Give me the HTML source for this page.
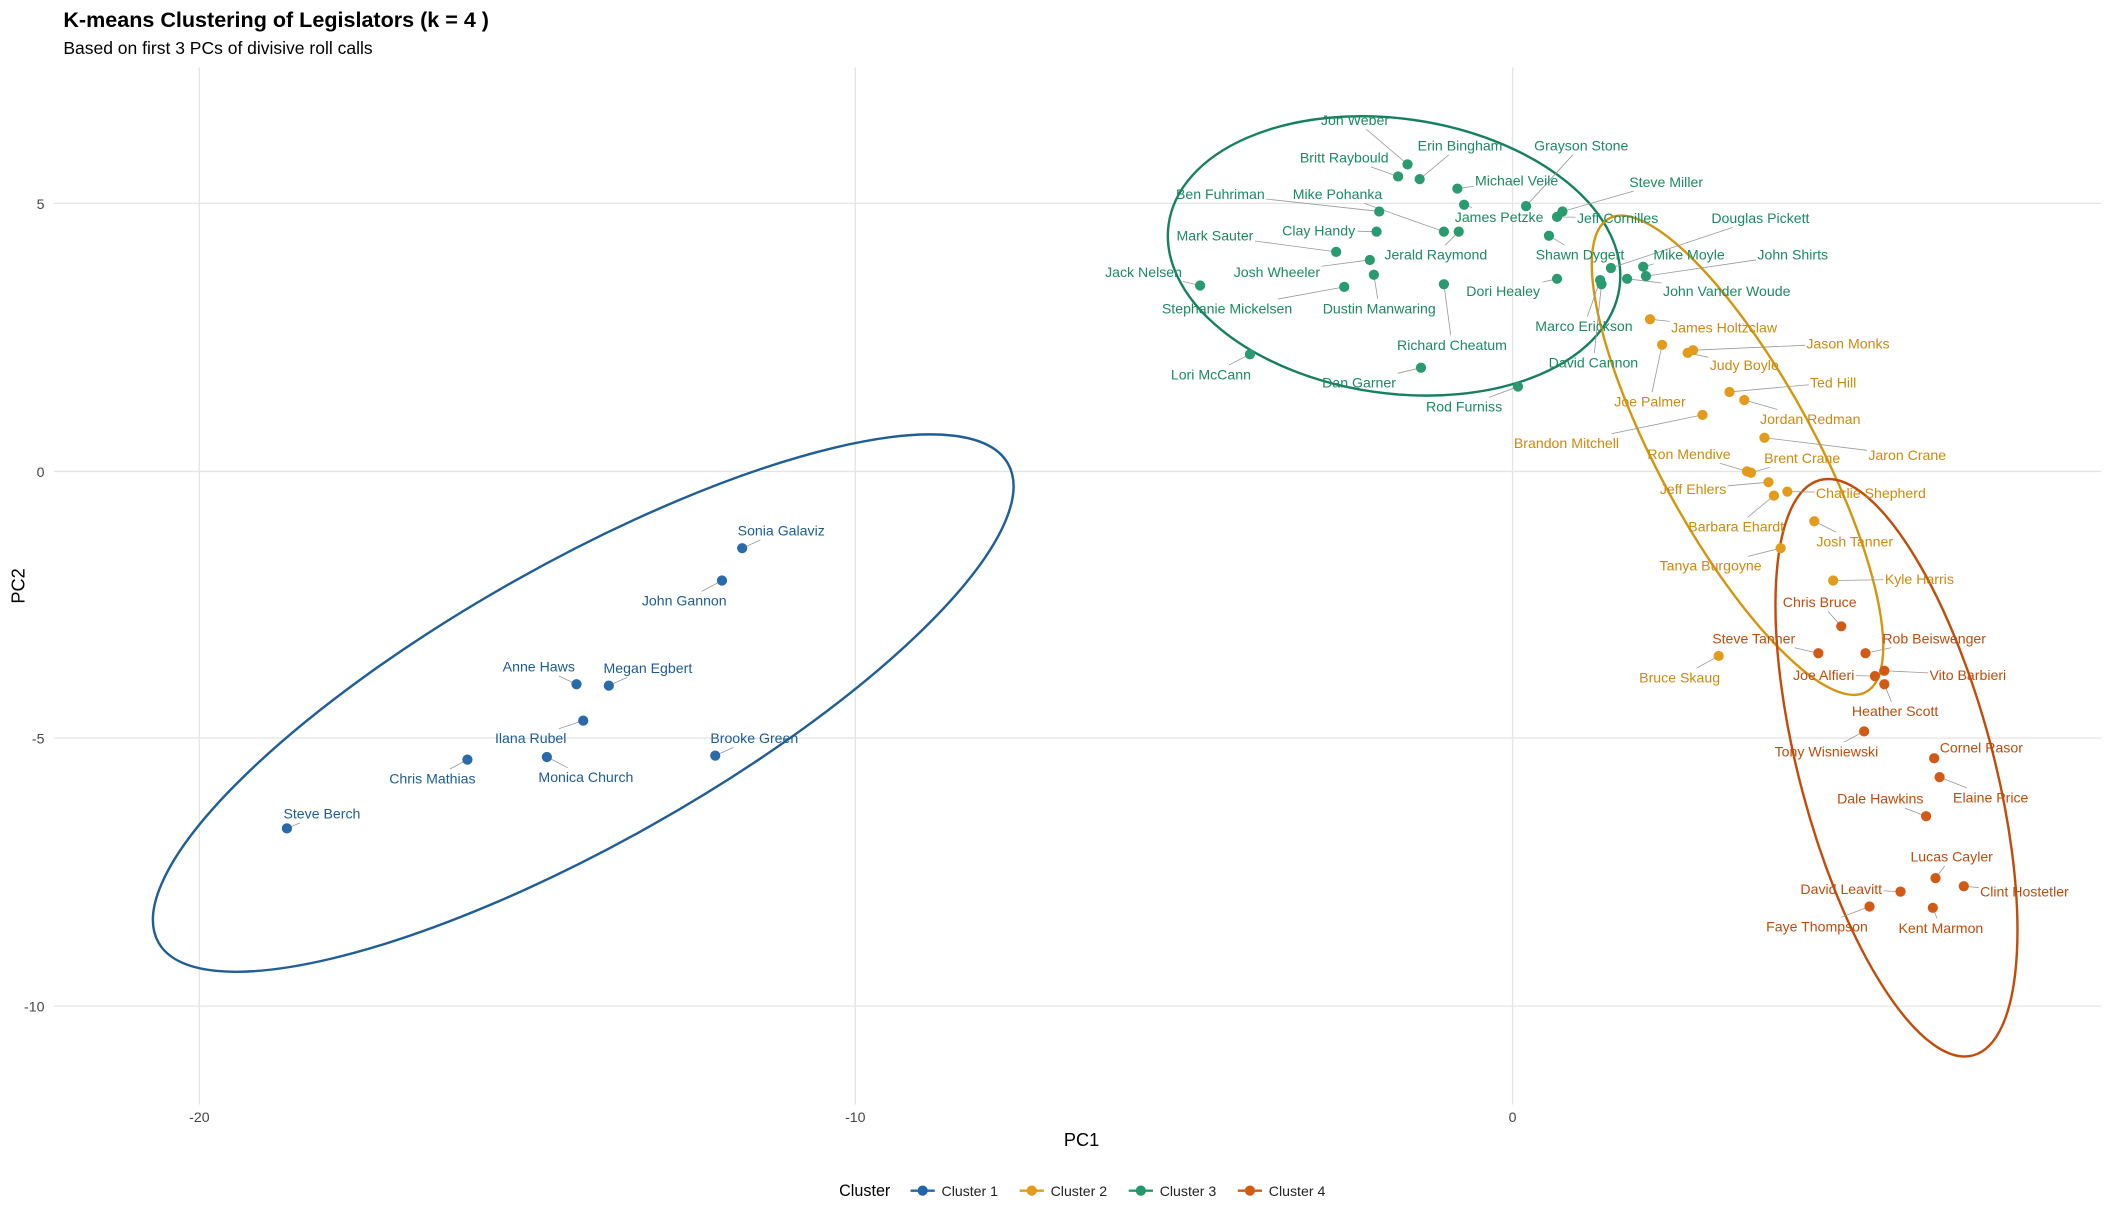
<!DOCTYPE html>
<html><head><meta charset="utf-8"><style>
html,body{margin:0;padding:0;background:#fff;}
svg{display:block;}
text{font-family:"Liberation Sans",Arial,sans-serif;}
</style></head><body>
<svg id="s" width="2112" height="1222" viewBox="0 0 1568 907.27" xmlns="http://www.w3.org/2000/svg">
<rect width="1568" height="908" fill="#fff"/>
<text x="47" y="20" font-size="16" font-weight="bold" fill="#000">K-means Clustering of Legislators (k = 4 )</text>
<text x="47" y="40" font-size="13" fill="#000">Based on first 3 PCs of divisive roll calls</text>
<g stroke="#e5e5e5" stroke-width="1">
<line x1="40" y1="151" x2="1560" y2="151"/><line x1="40" y1="350" x2="1560" y2="350"/>
<line x1="40" y1="548" x2="1560" y2="548"/><line x1="40" y1="747" x2="1560" y2="747"/>
<line x1="148" y1="50" x2="148" y2="820"/><line x1="635" y1="50" x2="635" y2="820"/><line x1="1123" y1="50" x2="1123" y2="820"/>
</g>
<g font-size="10.5" fill="#444" text-anchor="end">
<text x="33" y="155">5</text><text x="33" y="354">0</text><text x="33" y="552">-5</text><text x="33" y="751">-10</text>
</g>
<g font-size="10.5" fill="#444" text-anchor="middle">
<text x="148" y="833">-20</text><text x="635" y="833">-10</text><text x="1123" y="833">0</text>
</g>
<text x="803" y="851" font-size="13.5" text-anchor="middle">PC1</text>
<text transform="translate(18,435) rotate(-90)" font-size="13.5" text-anchor="middle">PC2</text>
<g fill="none" stroke-width="1.8">
<ellipse cx="433" cy="522" rx="362" ry="104" transform="rotate(-29.4 433 522)" stroke="#1f5e96"/>
<ellipse cx="1035" cy="190" rx="169" ry="102" transform="rotate(8 1035 190)" stroke="#178060"/>
<ellipse cx="1290" cy="338" rx="58" ry="200" transform="rotate(-28.5 1290 338)" stroke="#d4960f"/>
<ellipse cx="1408" cy="570" rx="72" ry="221" transform="rotate(-14.9 1408 570)" stroke="#c24c0a"/>
</g>
<g id="lines" stroke="#999" stroke-width="0.6"></g>
<g id="pts"></g>
<g id="labs" font-size="10.5" text-anchor="middle"></g>
<g font-size="12" fill="#000">
<text x="623" y="888">Cluster</text>
<line x1="676" y1="884" x2="694" y2="884" stroke="#2166a8" stroke-width="1.8"/><circle cx="685" cy="884" r="3.8" fill="#2166a8"/>
<text x="699" y="888" font-size="10.5" fill="#222">Cluster 1</text>
<line x1="757" y1="884" x2="775" y2="884" stroke="#e39b1c" stroke-width="1.8"/><circle cx="766" cy="884" r="3.8" fill="#e39b1c"/>
<text x="780" y="888" font-size="10.5" fill="#222">Cluster 2</text>
<line x1="838" y1="884" x2="856" y2="884" stroke="#22996c" stroke-width="1.8"/><circle cx="847" cy="884" r="3.8" fill="#22996c"/>
<text x="861" y="888" font-size="10.5" fill="#222">Cluster 3</text>
<line x1="919" y1="884" x2="937" y2="884" stroke="#d15a14" stroke-width="1.8"/><circle cx="928" cy="884" r="3.8" fill="#d15a14"/>
<text x="942" y="888" font-size="10.5" fill="#222">Cluster 4</text>
</g>
</svg>
<script>
var C={1:["#2a6aa8","#1d5c92"],2:["#e39b1c","#cc8a0e"],3:["#2a9a70","#1b8a60"],4:["#d15a14","#bd4c0c"]};
var D=[
[1,"Sonia Galaviz",551,407,580,394],[1,"John Gannon",536,431,508,446],[1,"Anne Haws",428,508,400,495],
[1,"Megan Egbert",452,509,481,496],[1,"Ilana Rubel",433,535,394,548],[1,"Monica Church",406,562,435,577],
[1,"Chris Mathias",347,564,321,578],[1,"Brooke Green",531,561,560,548],[1,"Steve Berch",213,615,239,604],
[3,"Jon Weber",1045,122,1006,89],[3,"Erin Bingham",1054,133,1084,108],[3,"Britt Raybould",1038,131,998,117],
[3,"Grayson Stone",1133,153,1174,108],[3,"Michael Veile",1082,140,1126,134],[3,"Steve Miller",1160,157,1237,135],
[3,"Ben Fuhriman",1024,157,906,144],[3,"Mike Pohanka",1072,172,993,144],[3,"James Petzke",1087,152,1113,161],
[3,"Jeff Cornilles",1156,161,1201,162],[3,"Douglas Pickett",1196,199,1307,162],[3,"Mark Sauter",992,187,902,175],
[3,"Clay Handy",1022,172,979,171],[3,"Jerald Raymond",1083,172,1066,189],[3,"Shawn Dygert",1150,175,1173,189],
[3,"Mike Moyle",1220,198,1254,189],[3,"John Shirts",1222,205,1331,189],[3,"Jack Nelsen",891,212,849,202],
[3,"Josh Wheeler",1017,193,948,202],[3,"Dori Healey",1156,207,1116,216],[3,"John Vander Woude",1208,207,1282,216],
[3,"Stephanie Mickelsen",998,213,911,229],[3,"Dustin Manwaring",1020,204,1024,229],[3,"Marco Erickson",1188,208,1176,242],
[3,"Richard Cheatum",1072,211,1078,256],[3,"David Cannon",1189,211,1183,269],[3,"Lori McCann",928,263,899,278],
[3,"Dan Garner",1055,273,1009,284],[3,"Rod Furniss",1127,287,1087,302],
[2,"James Holtzclaw",1225,237,1280,243],[2,"Jason Monks",1257,260,1372,255],[2,"Judy Boyle",1253,262,1295,271],
[2,"Joe Palmer",1234,256,1225,298],[2,"Ted Hill",1284,291,1361,284],[2,"Jordan Redman",1295,297,1344,311],
[2,"Brandon Mitchell",1264,308,1163,329],[2,"Jaron Crane",1310,325,1416,338],[2,"Ron Mendive",1297,350,1254,337],
[2,"Brent Crane",1300,351,1338,340],[2,"Jeff Ehlers",1313,358,1257,363],[2,"Charlie Shepherd",1327,365,1389,366],
[2,"Barbara Ehardt",1317,368,1289,391],[2,"Josh Tanner",1347,387,1377,402],[2,"Tanya Burgoyne",1322,407,1270,420],
[2,"Kyle Harris",1361,431,1425,430],[2,"Bruce Skaug",1276,487,1247,503],
[4,"Chris Bruce",1367,465,1351,447],[4,"Rob Beiswenger",1385,485,1436,474],[4,"Steve Tanner",1350,485,1302,474],
[4,"Joe Alfieri",1392,502,1354,501],[4,"Vito Barbieri",1399,498,1461,501],[4,"Heather Scott",1399,508,1407,528],
[4,"Tony Wisniewski",1384,543,1356,558],[4,"Cornel Rasor",1436,563,1471,555],[4,"Elaine Price",1440,577,1478,592],
[4,"Dale Hawkins",1430,606,1396,593],[4,"Lucas Cayler",1437,652,1449,636],[4,"Clint Hostetler",1458,658,1503,662],
[4,"David Leavitt",1411,662,1367,660],[4,"Kent Marmon",1435,674,1441,689],[4,"Faye Thompson",1388,673,1349,688]
];
var NS="http://www.w3.org/2000/svg";
var P=document.getElementById("pts"),L=document.getElementById("labs"),G=document.getElementById("lines");
D.forEach(function(d){
 var c=document.createElementNS(NS,"circle");c.setAttribute("cx",d[2]);c.setAttribute("cy",d[3]);c.setAttribute("r",3.8);c.setAttribute("fill",C[d[0]][0]);P.appendChild(c);
 var t=document.createElementNS(NS,"text");t.setAttribute("x",d[4]);t.setAttribute("y",d[5]+3.7);t.setAttribute("fill",C[d[0]][1]);t.textContent=d[1];L.appendChild(t);
 var b=t.getBBox();b={x:b.x-1,y:b.y-1,w:b.width+2,h:b.height+2};
 var cx=b.x+b.w/2,cy=b.y+b.h/2,dx=d[2]-cx,dy=d[3]-cy;
 if(Math.abs(dx)<=b.w/2&&Math.abs(dy)<=b.h/2)return;
 var s=Math.min(dx?Math.abs(b.w/2/dx):1e9,dy?Math.abs(b.h/2/dy):1e9);
 var ex=cx+dx*s,ey=cy+dy*s,len=Math.hypot(d[2]-ex,d[3]-ey);
 if(len<5)return;
 var l=document.createElementNS(NS,"line");l.setAttribute("x1",d[2]);l.setAttribute("y1",d[3]);l.setAttribute("x2",ex);l.setAttribute("y2",ey);G.appendChild(l);
});
</script>
</body></html>
